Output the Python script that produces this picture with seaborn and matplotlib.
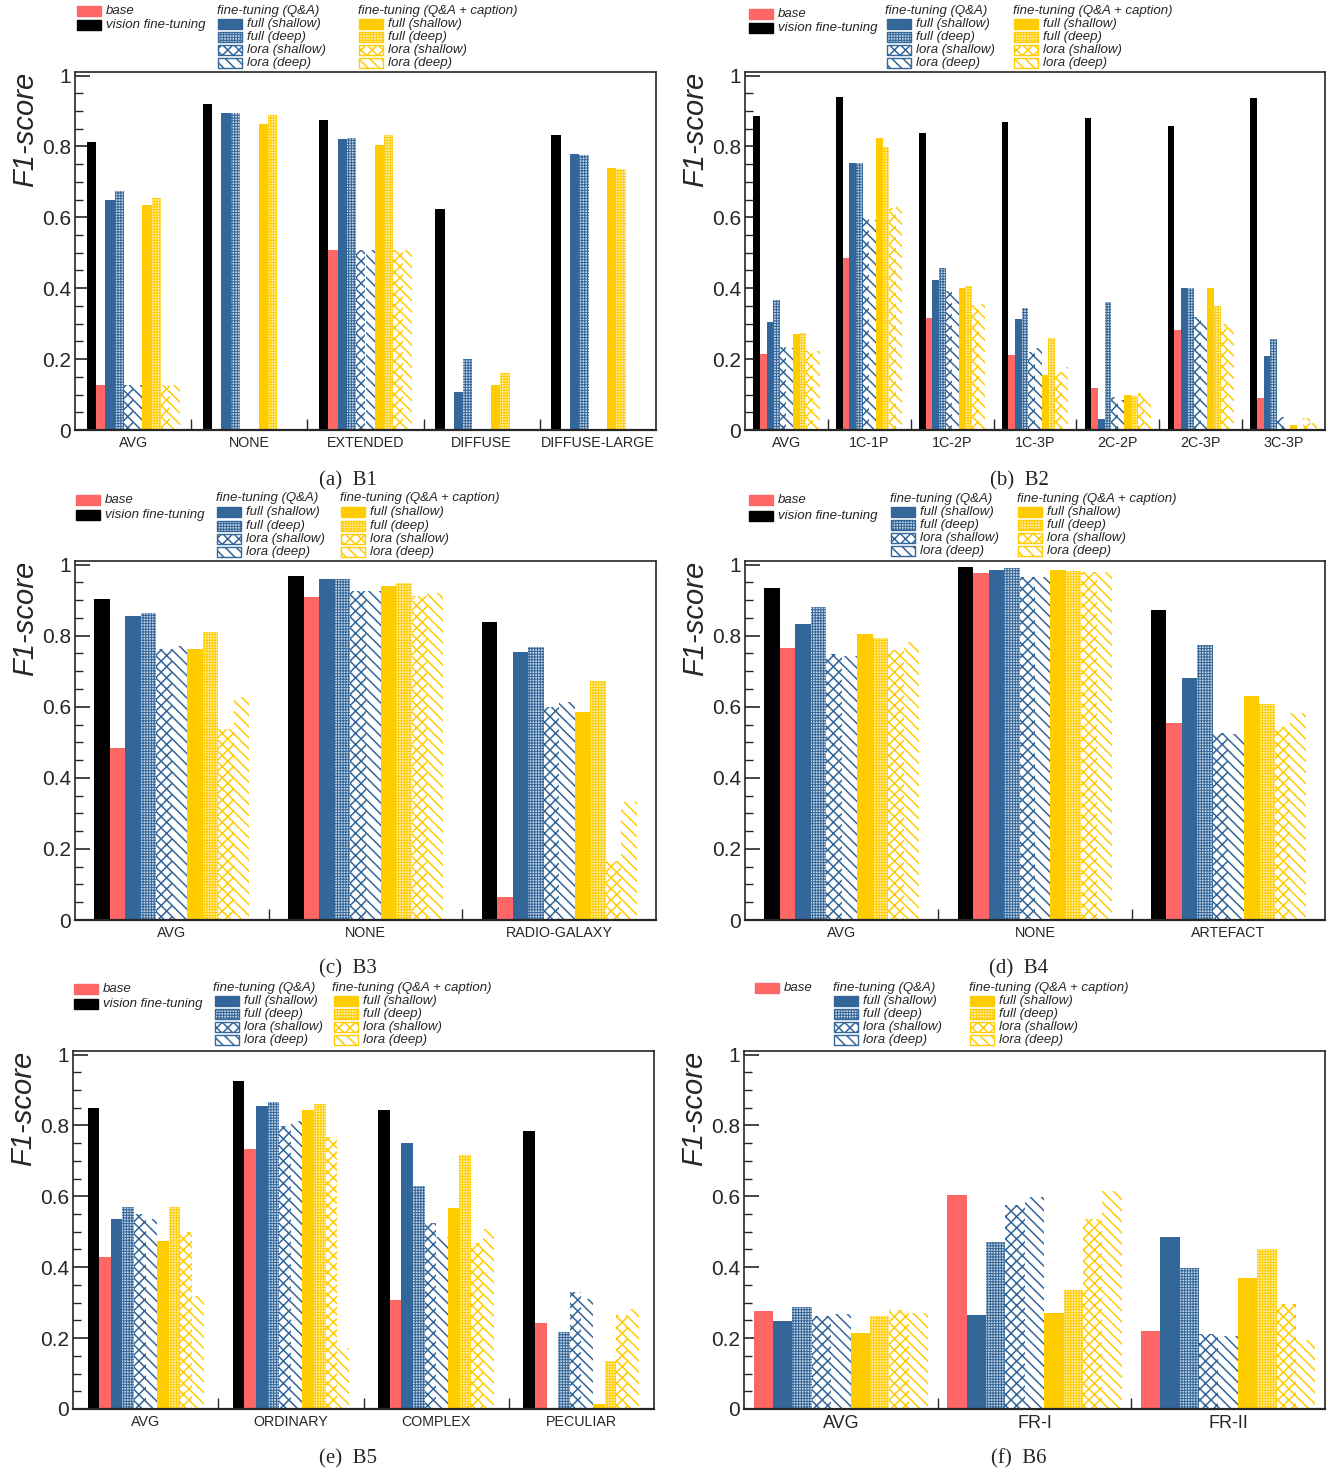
import matplotlib
matplotlib.use("Agg")
import matplotlib.pyplot as plt
from matplotlib.patches import Rectangle
from matplotlib.ticker import FixedLocator, MultipleLocator
import seaborn as sns
import pandas as pd
import numpy as np

W, H = 1328, 1474

# model order inside each group (left to right)
MODELS = ["vision", "base", "qa_fs", "qa_fd", "qa_ls", "qa_ld",
          "cap_fs", "cap_fd", "cap_ls", "cap_ld"]
RED, BLUE, YELLOW = "#ff6666", "#336699", "#ffcc00"
COLORS = {"vision": "black", "base": RED,
          "qa_fs": BLUE, "qa_fd": BLUE, "qa_ls": BLUE, "qa_ld": BLUE,
          "cap_fs": YELLOW, "cap_fd": YELLOW, "cap_ls": YELLOW, "cap_ld": YELLOW}
TINTS = {"qa_fd": "#c3d2e2", "cap_fd": "#fff0b0"}
HATCHES = {"qa_fd": "++++++", "qa_ls": "xxx", "qa_ld": "\\\\\\",
           "cap_fd": "++++++", "cap_ls": "xxx", "cap_ld": "\\\\\\"}
SUB_LABELS = ["full (shallow)", "full (deep)", "lora (shallow)", "lora (deep)"]

# ---- data (rows follow MODELS order) ----
b1_cats = ["AVG", "NONE", "EXTENDED", "DIFFUSE", "DIFFUSE-LARGE"]
b1_scores = [
    [0.812, 0.920, 0.875, 0.624, 0.831],
    [0.127, 0.003, 0.508, 0.003, 0.003],
    [0.650, 0.893, 0.821, 0.106, 0.778],
    [0.675, 0.895, 0.825, 0.200, 0.776],
    [0.127, 0.002, 0.508, 0.002, 0.002],
    [0.127, 0.002, 0.508, 0.002, 0.002],
    [0.634, 0.864, 0.804, 0.127, 0.740],
    [0.655, 0.890, 0.831, 0.160, 0.737],
    [0.127, 0.002, 0.508, 0.002, 0.002],
    [0.127, 0.002, 0.508, 0.002, 0.002],
]

b2_cats = ["AVG", "1C-1P", "1C-2P", "1C-3P", "2C-2P", "2C-3P", "3C-3P"]
b2_scores = [
    [0.887, 0.940, 0.838, 0.869, 0.881, 0.857, 0.936],
    [0.215, 0.486, 0.317, 0.211, 0.119, 0.281, 0.091],
    [0.304, 0.753, 0.422, 0.312, 0.030, 0.402, 0.208],
    [0.367, 0.753, 0.457, 0.344, 0.361, 0.402, 0.257],
    [0.235, 0.603, 0.391, 0.220, 0.094, 0.318, 0.038],
    [0.230, 0.593, 0.386, 0.230, 0.085, 0.305, 0.005],
    [0.270, 0.823, 0.400, 0.155, 0.100, 0.400, 0.014],
    [0.273, 0.797, 0.405, 0.259, 0.096, 0.350, 0.003],
    [0.226, 0.625, 0.353, 0.165, 0.105, 0.300, 0.035],
    [0.222, 0.644, 0.355, 0.178, 0.095, 0.290, 0.020],
]

b3_cats = ["AVG", "NONE", "RADIO-GALAXY"]
b3_scores = [
    [0.902, 0.968, 0.837],
    [0.485, 0.909, 0.064],
    [0.856, 0.958, 0.754],
    [0.863, 0.960, 0.767],
    [0.763, 0.926, 0.598],
    [0.772, 0.926, 0.612],
    [0.762, 0.941, 0.585],
    [0.810, 0.948, 0.671],
    [0.537, 0.912, 0.165],
    [0.626, 0.921, 0.332],
]

b4_cats = ["AVG", "NONE", "ARTEFACT"]
b4_scores = [
    [0.934, 0.993, 0.872],
    [0.765, 0.976, 0.553],
    [0.834, 0.986, 0.682],
    [0.880, 0.989, 0.774],
    [0.749, 0.965, 0.527],
    [0.744, 0.965, 0.523],
    [0.806, 0.984, 0.629],
    [0.794, 0.982, 0.607],
    [0.759, 0.979, 0.542],
    [0.782, 0.980, 0.581],
]

b5_cats = ["AVG", "ORDINARY", "COMPLEX", "PECULIAR"]
b5_scores = [
    [0.850, 0.924, 0.843, 0.784],
    [0.429, 0.733, 0.308, 0.244],
    [0.535, 0.855, 0.750, 0.003],
    [0.571, 0.866, 0.629, 0.216],
    [0.550, 0.799, 0.525, 0.331],
    [0.535, 0.812, 0.484, 0.311],
    [0.475, 0.843, 0.566, 0.013],
    [0.571, 0.860, 0.717, 0.135],
    [0.500, 0.766, 0.467, 0.266],
    [0.320, 0.171, 0.508, 0.283],
]

b6_cats = ["AVG", "FR-I", "FR-II"]
b6_scores = [  # no vision fine-tuning bar
    [0.276, 0.605, 0.219],
    [0.249, 0.266, 0.484],
    [0.289, 0.472, 0.397],
    [0.261, 0.576, 0.211],
    [0.267, 0.597, 0.205],
    [0.214, 0.270, 0.370],
    [0.261, 0.335, 0.450],
    [0.278, 0.537, 0.295],
    [0.270, 0.616, 0.194],
]

sns.set_style("ticks")
plt.rcParams["font.family"] = ["Liberation Sans", "DejaVu Sans"]
plt.rcParams["hatch.linewidth"] = 1.1


def px_rect(l, t, r, b):
    return [l / W, 1 - b / H, (r - l) / W, (b - t) / H]


def fx(x):
    return x / W


def fy(y):
    return 1 - y / H


def style_hatch(patch, key):
    patch.set_facecolor(TINTS.get(key, "none"))
    patch.set_edgecolor(COLORS[key])
    patch.set_hatch(HATCHES[key])
    if key in TINTS and hasattr(patch, "set_hatch_linewidth"):
        patch.set_hatch_linewidth(0.7)


def draw_panel(ax, cats, models, scores, width, xfs):
    rows = [(c, m, v) for m, vals in zip(models, scores) for c, v in zip(cats, vals)]
    df = pd.DataFrame(rows, columns=["category", "model", "f1"])
    sns.barplot(data=df, x="category", y="f1", hue="model", order=cats,
                hue_order=models, palette={m: COLORS[m] for m in models},
                saturation=1, width=width, gap=0, errorbar=None, legend=False,
                linewidth=0, ax=ax)
    for m, cont in zip(models, ax.containers):
        if m in HATCHES:
            for bar in cont:
                style_hatch(bar, m)
                bar.set_linewidth(0)

    n = len(cats)
    ax.set_xlim(-0.5, n - 0.5)
    ax.set_ylim(0, 1.01)
    ax.set_xticks(np.arange(n), labels=cats)
    ax.set_xticks(np.arange(n - 1) + 0.5, minor=True)
    ax.tick_params(axis="x", which="major", length=0, pad=4, labelsize=xfs)
    ax.tick_params(axis="x", which="minor", length=8, width=1, direction="in")
    ax.yaxis.set_major_locator(FixedLocator([0, 0.2, 0.4, 0.6, 0.8, 1.0]))
    ax.set_yticklabels(["0", "0.2", "0.4", "0.6", "0.8", "1"])
    ax.yaxis.set_minor_locator(MultipleLocator(0.05))
    ax.tick_params(axis="y", which="major", length=11, width=1.2, direction="in",
                   labelsize=15, pad=3)
    ax.tick_params(axis="y", which="minor", length=6, width=1, direction="in")
    for sp in ax.spines.values():
        sp.set_visible(True)
        sp.set_linewidth(1.2)
    ax.spines["bottom"].set_linewidth(1.6)
    ax.set_xlabel("")
    ax.set_ylabel("F1-score", loc="top", fontsize=21, style="italic")
    ax.yaxis.set_label_coords(-0.062, 1.0)


def legend_box(fig, x, y, key):
    c = COLORS[key]
    r = Rectangle((fx(x), fy(y + 5)), 24 / W, 10 / H, transform=fig.transFigure,
                  facecolor=c, edgecolor=c, linewidth=1)
    if key in HATCHES:
        style_hatch(r, key)
    fig.add_artist(r)


def legend_text(fig, x, y, s):
    fig.text(fx(x), fy(y), s, fontsize=9.5, style="italic", ha="left", va="center")


def draw_legend(fig, spec):
    for key, lab, yy in zip(spec["col1_keys"], ["base", "vision fine-tuning"], spec["col1_rows"]):
        legend_box(fig, spec["col1_box"], yy, key)
        legend_text(fig, spec["col1_box"] + 29, yy, lab)
    for (hx, bx), head, keys in [(spec["col2"], "fine-tuning (Q&A)", MODELS[2:6]),
                                 (spec["col3"], "fine-tuning (Q&A + caption)", MODELS[6:10])]:
        legend_text(fig, hx, spec["head_y"], head)
        for key, lab, yy in zip(keys, SUB_LABELS, spec["rows"]):
            legend_box(fig, bx, yy, key)
            legend_text(fig, bx + 29, yy, lab)


fig = plt.figure(figsize=(W / 100, H / 100), dpi=100)

panels = [
    (px_rect(75, 72, 656, 430), b1_cats, MODELS, b1_scores, 0.8, 10.3, "(a)  B1", 348, 481,
     dict(col1_box=77, col1_keys=["base", "vision"], col1_rows=[11, 25], col2=(217, 218),
          col3=(358, 359), head_y=11, rows=[24, 37, 50, 63])),
    (px_rect(745, 72, 1325, 430), b2_cats, MODELS, b2_scores, 0.8, 10.3, "(b)  B2", 1019, 481,
     dict(col1_box=749, col1_keys=["base", "vision"], col1_rows=[14, 28], col2=(885, 887),
          col3=(1013, 1014), head_y=11, rows=[24, 37, 50, 63])),
    (px_rect(75, 561, 656, 920), b3_cats, MODELS, b3_scores, 0.8, 10.3, "(c)  B3", 348, 969,
     dict(col1_box=76, col1_keys=["base", "vision"], col1_rows=[500, 515], col2=(216, 217),
          col3=(340, 341), head_y=498, rows=[512, 526, 539, 552])),
    (px_rect(745, 561, 1325, 920), b4_cats, MODELS, b4_scores, 0.8, 10.3, "(d)  B4", 1019, 969,
     dict(col1_box=749, col1_keys=["base", "vision"], col1_rows=[500, 516], col2=(890, 891),
          col3=(1017, 1018), head_y=499, rows=[512, 525, 538, 551])),
    (px_rect(73, 1051, 654, 1409), b5_cats, MODELS, b5_scores, 0.8, 10.3, "(e)  B5", 348, 1459,
     dict(col1_box=74, col1_keys=["base", "vision"], col1_rows=[989, 1004], col2=(213, 215),
          col3=(332, 334), head_y=988, rows=[1001, 1014, 1027, 1040])),
    (px_rect(744, 1051, 1325, 1409), b6_cats, MODELS[1:], b6_scores, 0.9, 13, "(f)  B6", 1019, 1459,
     dict(col1_box=755, col1_keys=["base"], col1_rows=[988], col2=(833, 834),
          col3=(969, 970), head_y=988, rows=[1001, 1014, 1027, 1040])),
]

for rect, cats, models, scores, width, xfs, cap, cx, cy, spec in panels:
    ax = fig.add_axes(rect)
    draw_panel(ax, cats, models, scores, width, xfs)
    draw_legend(fig, spec)
    fig.text(fx(cx), fy(cy), cap, fontsize=15, family="Liberation Serif",
             ha="center", va="center")

fig.savefig("out.png", dpi=100)
